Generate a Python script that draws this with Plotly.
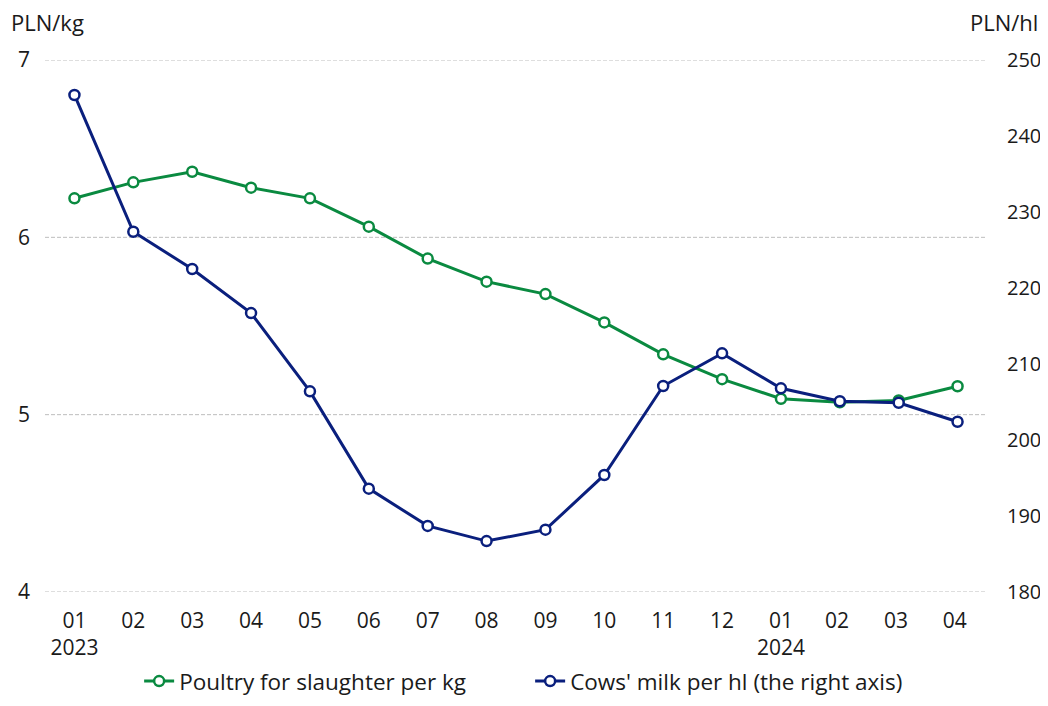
import plotly.graph_objects as go

months = ["01<br>2023", "02", "03", "04", "05", "06", "07", "08", "09", "10", "11", "12",
          "01<br>2024", "02 ", "03 ", "04 "]
poultry = [6.22, 6.31, 6.37, 6.28, 6.22, 6.06, 5.88, 5.75, 5.68, 5.52, 5.34, 5.20,
           5.09, 5.07, 5.08, 5.16]
milk = [245.4, 227.4, 222.5, 216.7, 206.4, 193.6, 188.7, 186.7, 188.2, 195.4, 207.1, 211.4,
        206.8, 205.1, 204.9, 202.4]

left_ticks = [4, 5, 6, 7]
right_ticks = [180, 190, 200, 210, 220, 230, 240, 250]

GREEN = "#0A8A40"
NAVY = "#0A1F7D"
FONT = "Open Sans"
FS = 21

fig = go.Figure()
fig.add_trace(go.Scatter(
    x=months, y=poultry, name="Poultry for slaughter per kg", mode="lines+markers",
    line=dict(color=GREEN, width=3),
    marker=dict(symbol="circle", size=10, color="white", line=dict(color=GREEN, width=2.5)),
))
fig.add_trace(go.Scatter(
    x=months, y=milk, name="Cows' milk per hl (the right axis)", mode="lines+markers",
    yaxis="y2",
    line=dict(color=NAVY, width=3),
    marker=dict(symbol="circle", size=10, color="white", line=dict(color=NAVY, width=2.5)),
))

for v in left_ticks:
    fig.add_hline(y=v, line=dict(color="#BDBDBD", width=1, dash="4px,2px"), layer="below")

fig.update_layout(
    width=1032, height=690,
    margin=dict(l=37, r=53, t=52, b=106, autoexpand=False),
    paper_bgcolor="white", plot_bgcolor="white",
    font=dict(family=FONT, size=FS, color="#1a1a1a"),
    xaxis=dict(type="category", range=[-0.5, 15.5], showgrid=False, showline=False,
               ticks="", tickfont=dict(size=FS), ticklabelstandoff=14, automargin=False),
    yaxis=dict(range=[4, 7], tickvals=left_ticks, showgrid=False,
               zeroline=False, showline=False, ticks="",
               ticklabelstandoff=14, automargin=False),
    yaxis2=dict(range=[180, 250], tickvals=right_ticks, overlaying="y", side="right",
                showgrid=False, zeroline=False, showline=False, ticks="",
                tickfont=dict(size=20), ticklabelstandoff=19, automargin=False),
    legend=dict(orientation="h", x=0.515, xanchor="center", y=-0.1278, yanchor="top",
                font=dict(size=22.5), entrywidth=346, entrywidthmode="pixels"),
    showlegend=True,
    annotations=[
        dict(text="PLN/kg", xref="paper", yref="paper", x=0, xshift=-36, y=1, yshift=38,
             xanchor="left", yanchor="middle", showarrow=False, font=dict(size=22)),
        dict(text="PLN/hl", xref="paper", yref="paper", x=1, xshift=53, y=1, yshift=38,
             xanchor="right", yanchor="middle", showarrow=False, font=dict(size=22)),
    ],
)

fig.write_html("out.html")
